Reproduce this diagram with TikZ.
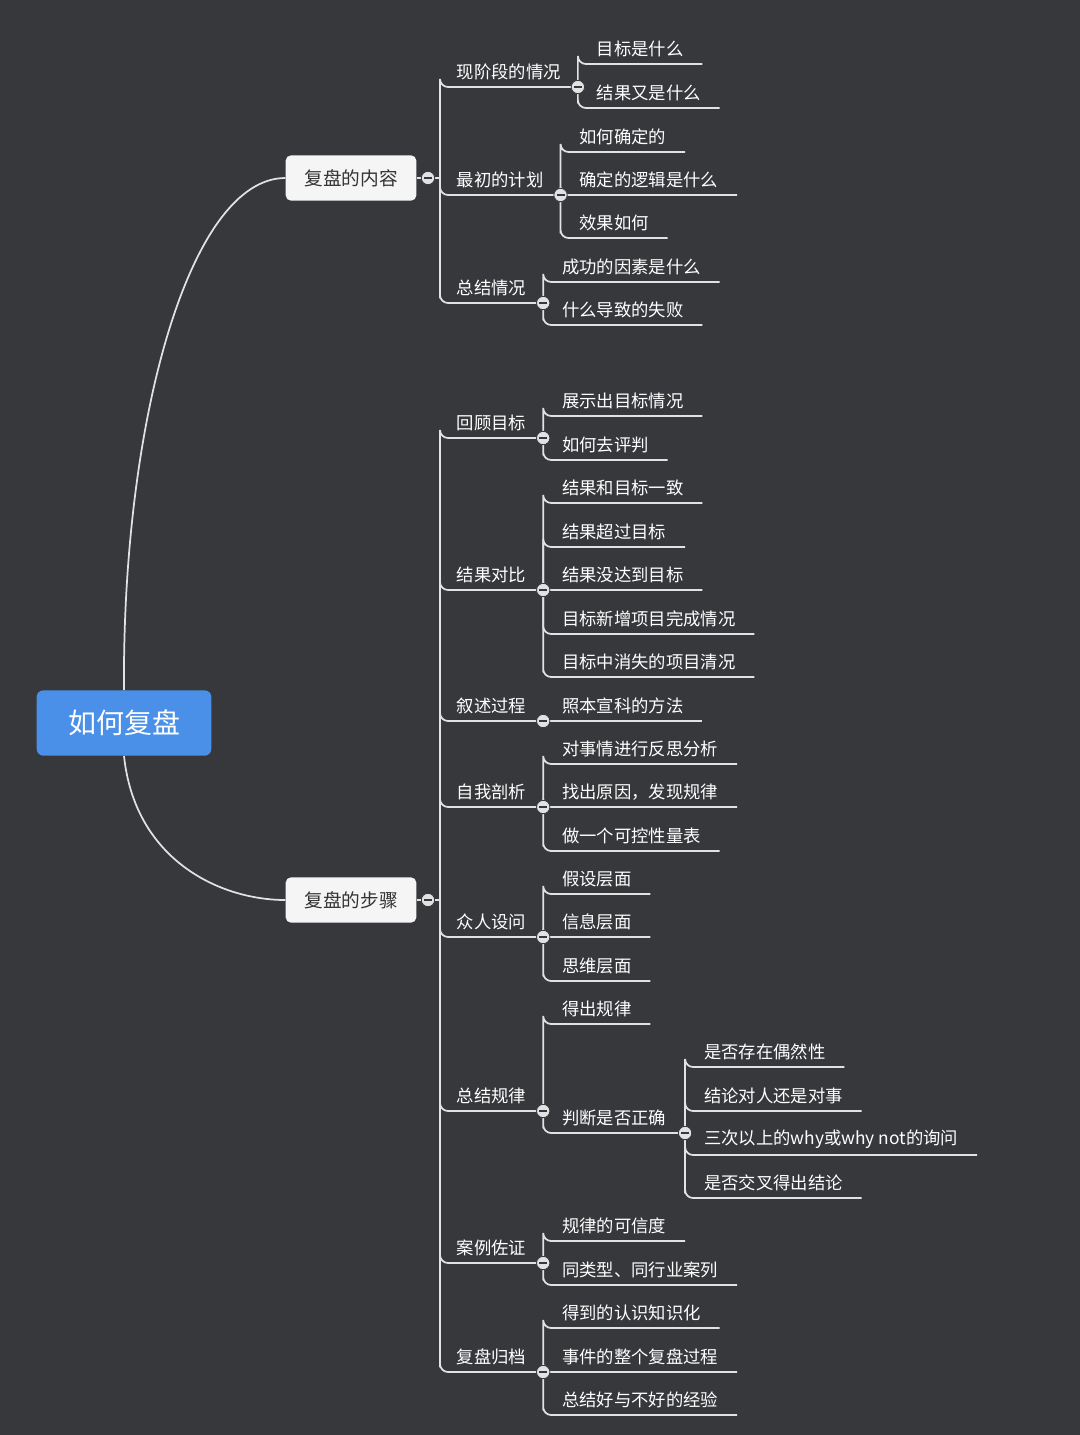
\documentclass[tikz,border=0pt]{standalone}
\usepackage{fontspec}
\setmainfont{Noto Sans CJK SC}
\usetikzlibrary{calc}
\definecolor{bg}{HTML}{36383B}
\definecolor{ln}{HTML}{E2E2E2}
\definecolor{rootblue}{HTML}{4A90E8}
\tikzset{
  link/.style={ln,line width=1.3pt,rounded corners=6pt},
  leaf/.style={anchor=south west,text=white,font=\fontsize{13}{15}\selectfont,inner xsep=14pt,inner ysep=5pt},
  topic/.style={fill=white!96!black,rounded corners=4pt,text=black!80,font=\fontsize{14}{16}\selectfont,minimum width=98pt,minimum height=34pt},
  fold/.style={circle,fill=ln,draw=bg,line width=.6pt,minimum size=10pt,inner sep=0pt,
    path picture={\draw[bg,line width=1.2pt] ($(path picture bounding box.center)+(-3pt,0)$)--($(path picture bounding box.center)+(3pt,0)$);}},
}
\begin{document}
\begin{tikzpicture}[x=0.75pt,y=-0.75pt]
  \fill[bg] (0,0) rectangle (1080,1435);
  \useasboundingbox (0,0) rectangle (1080,1435);
  % root and main topics
  \node[fill=rootblue,rounded corners=5pt,text=white,font=\fontsize{21}{24}\selectfont,minimum width=131pt,minimum height=49pt] (root) at (124,723) {如何复盘};
  \node[topic] (t1) at (351,178) {复盘的内容};
  \node[topic] (t2) at (351,900) {复盘的步骤};
  \draw[link] (root.north) .. controls (122,420) and (190,178) .. (t1.west);
  \draw[link] (root.south) .. controls (135,860) and (220,900) .. (t2.west);
  \coordinate (k1) at (440,178);
  \coordinate (k2) at (440,900);
  \coordinate (f1) at (428,178);
  \coordinate (f2) at (428,900);
  \draw[link] (t1.east) -- (k1);
  \draw[link] (t2.east) -- (k2);
  % second level
  \foreach \n/\k/\y/\t in {a/k1/87/现阶段的情况, b/k1/195/最初的计划, c/k1/303/总结情况,
      d/k2/438/回顾目标, e/k2/590/结果对比, f/k2/721/叙述过程, g/k2/807/自我剖析,
      h/k2/937/众人设问, i/k2/1111/总结规律, j/k2/1263/案例佐证, m/k2/1372/复盘归档} {
    \node[leaf,inner xsep=12.5pt] (\n) at (440,\y) {\t};
    \draw[link] (\k) |- (\n.south west) -- (\n.south east);
    \coordinate (c\n) at (\n.south east);
  }
  % leaves
  \foreach \pa/\yy/\tt in {a/64/目标是什么, a/108/结果又是什么,
      b/152/如何确定的, b/195/确定的逻辑是什么, b/238/效果如何,
      c/282/成功的因素是什么, c/325/什么导致的失败,
      d/416/展示出目标情况, d/460/如何去评判,
      e/503/结果和目标一致, e/547/结果超过目标, e/590/结果没达到目标, e/634/目标新增项目完成情况, e/677/目标中消失的项目清况,
      g/764/对事情进行反思分析, g/807/找出原因，发现规律, g/851/做一个可控性量表,
      h/894/假设层面, h/937/信息层面, h/981/思维层面,
      i/1024/得出规律, j/1241/规律的可信度, j/1285/同类型、同行业案列,
      m/1328/得到的认识知识化, m/1372/事件的整个复盘过程, m/1415/总结好与不好的经验} {
    \node[leaf] (l\yy) at (c\pa |- 0,\yy) {\tt};
    \draw[link] (c\pa) |- (l\yy.south west) -- (l\yy.south east);
  }
  \node[leaf] (narr) at (cf) {照本宣科的方法};
  \draw[link] (cf) -- (narr.south east);
  % third level under 判断是否正确
  \node[leaf] (q) at (ci |- 0,1133) {判断是否正确};
  \draw[link] (ci) |- (q.south west) -- (q.south east);
  \coordinate (cq) at (q.south east);
  \foreach \y/\t in {1067/是否存在偶然性, 1111/结论对人还是对事, 1155/三次以上的why或why not的询问, 1198/是否交叉得出结论} {
    \node[leaf] (r\y) at (cq |- 0,\y) {\t};
    \draw[link] (cq) |- (r\y.south west) -- (r\y.south east);
  }
  % fold markers
  \foreach \c in {f1,f2,ca,cb,cc,cd,ce,cf,cg,ch,ci,cj,cm,cq}
    \node[fold] at (\c) {};
\end{tikzpicture}
\end{document}
